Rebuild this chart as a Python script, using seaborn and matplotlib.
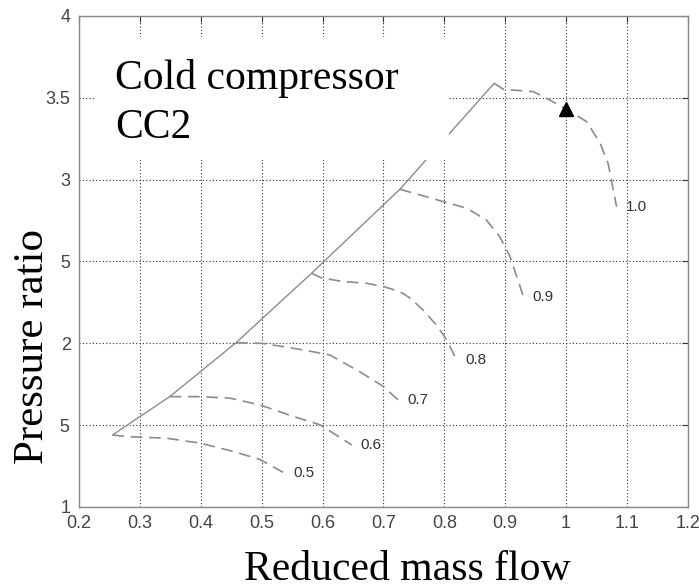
import numpy as np
import pandas as pd
import matplotlib
matplotlib.use("Agg")
import matplotlib.pyplot as plt
from matplotlib.patches import Rectangle
import seaborn as sns

# ---- data ----
speeds = ["0.5", "0.6", "0.7", "0.8", "0.9", "1.0"]

flow_05 = [0.255, 0.278, 0.344, 0.399, 0.453, 0.497, 0.538]
pr_05 = [1.440, 1.430, 1.420, 1.390, 1.340, 1.290, 1.206]

flow_06 = [0.349, 0.400, 0.448, 0.497, 0.552, 0.596, 0.648]
pr_06 = [1.674, 1.674, 1.665, 1.624, 1.553, 1.502, 1.379]

flow_07 = [0.458, 0.500, 0.535, 0.575, 0.612, 0.661, 0.700, 0.724]
pr_07 = [2.004, 2.000, 1.980, 1.955, 1.929, 1.827, 1.736, 1.655]

flow_08 = [0.582, 0.598, 0.634, 0.672, 0.700, 0.727, 0.744, 0.765, 0.787, 0.804, 0.820]
pr_08 = [2.428, 2.400, 2.377, 2.367, 2.347, 2.316, 2.276, 2.204, 2.112, 2.021, 1.899]

flow_09 = [0.727, 0.760, 0.798, 0.837, 0.869, 0.891, 0.908, 0.930]
pr_09 = [2.941, 2.907, 2.866, 2.825, 2.754, 2.652, 2.530, 2.285]

flow_10 = [0.882, 0.897, 0.946, 0.968, 1.001, 1.034, 1.056, 1.069, 1.083]
pr_10 = [3.589, 3.552, 3.538, 3.497, 3.430, 3.354, 3.222, 3.100, 2.835]

surge_flow = [0.255, 0.349, 0.458, 0.582, 0.727, 0.882]
surge_pr = [1.440, 1.674, 2.004, 2.428, 2.941, 3.589]

design_flow = [1.0]
design_pr = [3.43]

x_ticks = [0.2, 0.3, 0.4, 0.5, 0.6, 0.7, 0.8, 0.9, 1.0, 1.1, 1.2]
x_ticklabels = ["0.2", "0.3", "0.4", "0.5", "0.6", "0.7", "0.8", "0.9", "1", "1.1", "1.2"]
y_ticks = [1, 1.5, 2, 2.5, 3, 3.5, 4]
y_ticklabels = ["1", "1.5", "2", "2.5", "3", "3.5", "4"]

title_text = "Cold compressor\nCC2"
x_label = "Reduced mass flow"
y_label = "Pressure ratio"

# ---- build table ----
flows = [flow_05, flow_06, flow_07, flow_08, flow_09, flow_10]
prs = [pr_05, pr_06, pr_07, pr_08, pr_09, pr_10]
rows = []
for s, f, p in zip(speeds, flows, prs):
    for i, (fx, py) in enumerate(zip(f, p)):
        rows.append({"speed": s, "order": i, "flow": fx, "pr": py})
df = pd.DataFrame(rows)

sns.set_style("white")
serif = ["Liberation Serif", "DejaVu Serif"]
sans = ["Liberation Sans", "DejaVu Sans"]
plt.rcParams["font.family"] = sans

fig = plt.figure(figsize=(6.99, 5.88), dpi=100)
ax = fig.add_axes([0.113, 0.1378, 0.871, 0.835])

line_grey = "#8c8c8c"
for s in speeds:
    sub = df[df["speed"] == s]
    sns.lineplot(data=sub, x="flow", y="pr", sort=False, estimator=None,
                 color=line_grey, linewidth=1.2, ax=ax, zorder=3)
    ax.lines[-1].set_dashes([7, 4])
    ax.annotate(s, xy=(sub["flow"].iloc[-1], sub["pr"].iloc[-1]),
                xytext=(9, 0), textcoords="offset pixels",
                ha="left", va="center", fontsize=11, color="#333333",
                family=sans)

sns.lineplot(x=surge_flow, y=surge_pr, sort=False, estimator=None,
             color=line_grey, linewidth=1.0, ax=ax, zorder=3)
ax.plot(design_flow, design_pr, marker="^", color="black",
        markersize=10, linestyle="none", zorder=5)

ax.set_xlim(0.2, 1.2)
ax.set_ylim(1, 4)
ax.set_xticks(x_ticks)
ax.set_xticklabels(x_ticklabels)
ax.set_yticks(y_ticks)
ax.set_yticklabels(y_ticklabels)
ax.tick_params(direction="in", length=4, width=0.8, color="#333333",
               labelcolor="#444444", labelsize=13, top=True, right=True,
               pad=6)
ax.grid(True, linestyle=(0, (1, 2)), color="#333333", linewidth=0.8)
for sp in ax.spines.values():
    sp.set_color("#888888")
    sp.set_linewidth(1.0)
    sp.set_visible(True)

# white box behind the title text
ax.add_patch(Rectangle((0.225, 3.12), 0.582, 0.752, facecolor="white",
                       edgecolor="none", zorder=4))
ax.text(0.259, 3.255, title_text, ha="left", va="baseline", fontsize=30,
        family=serif, color="black", zorder=6, linespacing=1.37)

ax.set_xlabel(x_label, fontsize=30, family=serif, color="black")
ax.xaxis.set_label_coords(0.54, -0.089)
ax.set_ylabel(y_label, fontsize=31, family=serif, color="black",
              bbox=dict(boxstyle="square,pad=0.2", facecolor="white",
                        edgecolor="none"))
ax.yaxis.set_label_coords(-0.0443, 0.326)

fig.savefig("out.png", dpi=100)
